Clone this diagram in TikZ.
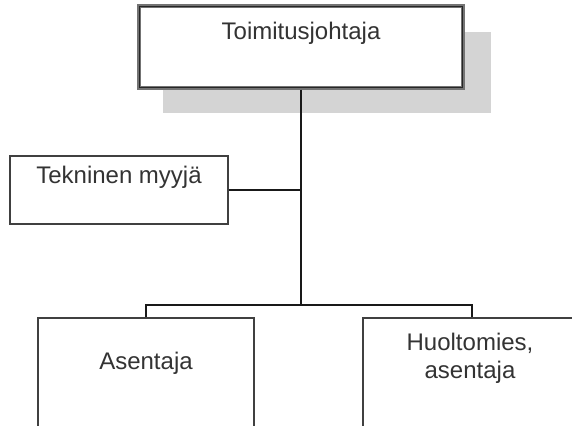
\documentclass[tikz,border=0pt]{standalone}
\usepackage{fontspec}
\setmainfont{Liberation Sans}
\begin{document}
\begin{tikzpicture}[x=1pt,y=-1pt,
  box/.style={draw=black!75,line width=1.6pt,fill=white,minimum width=#1,inner sep=0pt},
  lbl/.style={text=black!80,font=\fontsize{24}{28}\selectfont,inner sep=0pt,align=center},
  wire/.style={draw=black!90,line width=1.6pt}]
  \useasboundingbox (0,0) rectangle (572,425);
  \clip (0,0) rectangle (572,425);
  % drop shadow behind the top box
  \fill[black!17] (163,32) rectangle (491,113);
  % top box with its double frame
  \node[box=324pt,minimum height=82pt,draw=black!55,line width=3.5pt] (ceo) at (301,47) {};
  \draw[black!85,line width=0.9pt] ([xshift=2.5pt,yshift=-2.5pt]ceo.north west) rectangle ([xshift=-2.5pt,yshift=2.5pt]ceo.south east);
  \node[lbl,anchor=base] (ceo-t) at (301,40) {Toimitusjohtaja};
  % staff box
  \node[box=218pt,minimum height=68pt] (tech) at (119,190) {};
  \node[lbl,anchor=base] (tech-t) at (119,183) {Tekninen myyjä};
  % lower boxes, running past the edge
  \node[box=216pt,minimum height=130pt] (asm) at (146,383) {};
  \node[lbl,anchor=base] (asm-t) at (146,369) {Asentaja};
  \node[box=218pt,minimum height=130pt] (srv) at (472,383) {};
  \node[lbl,anchor=base] (srv-t) at (470,378) {Huoltomies,\\asentaja};
  % connectors
  \coordinate (hub) at (301,305);
  \draw[wire] (ceo.south) -- (hub);
  \draw[wire] (tech.east) -- (tech.east -| hub);
  \draw[wire] (asm.north) |- (hub);
  \draw[wire] (srv.north) |- (hub);
\end{tikzpicture}
\end{document}
